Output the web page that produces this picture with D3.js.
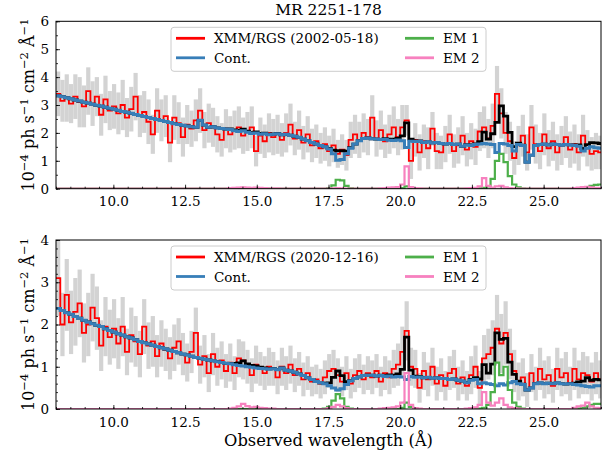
<!DOCTYPE html>
<html>
<head>
<meta charset="utf-8">
<script src="https://cdn.jsdelivr.net/npm/d3@7"></script>
<style>
  body { margin: 0; background: #fff; }
  text { font-family: 'DejaVu Serif', serif; fill: #000; }
</style>
</head>
<body>
<svg id="chart" width="611" height="456"></svg>
<script>
// wavelength grid of the RGS spectra (Å)
const binStart = 8.0
const binWidth = 0.15

const xMajor = [10, 12.5, 15, 17.5, 20, 22.5, 25]

// 2002-05-18 spectrum (1e-4 ph/s/cm2/Å)
const flux2002 = [
  3.4, 3.15, 3.25, 3.05, 3.3, 3.1, 2.95, 3.5, 3.05, 3.3,
  2.65, 3.2, 2.8, 2.95, 2.7, 3.0, 2.55, 2.85, 3.3, 2.6,
  2.75, 2.4, 1.95, 2.8, 2.45, 2.6, 1.65, 2.55, 2.35, 1.85,
  2.3, 2.15, 2.45, 2.8, 2.1, 2.35, 2.2, 1.95, 1.75, 2.15,
  1.95, 2.1, 2.2, 1.9, 2.05, 2.2, 1.35, 1.9, 1.7, 2.0,
  1.85, 1.95, 1.75, 2.0, 2.3, 1.8, 2.1, 1.65, 1.95, 1.55,
  1.7, 1.45, 1.6, 1.35, 1.55, 1.25, 1.4, 1.2, 1.75, 1.95,
  1.75, 2.0, 1.85, 2.55, 1.8, 2.1, 1.7, 1.95, 2.2, 1.85,
  2.2, 2.45, 1.0, 1.75, 1.3, 1.7, 1.45, 2.15, 1.35, 1.3,
  1.6, 1.95, 1.35, 1.55, 1.9, 1.4, 1.7, 1.5, 2.05, 2.2,
  1.8, 2.25, 3.4, 2.7, 2.0, 1.7, 1.1, 1.55, 1.9, 1.3,
  2.2, 1.6, 1.35, 1.95, 1.45, 1.7, 1.3, 1.55, 1.85, 1.4,
  1.6, 1.3, 1.9, 1.45, 1.25, 1.35, 1.3
]
const err2002 = [
  0.8, 0.75, 0.85, 0.7, 0.8, 0.9, 0.75, 0.85, 0.8, 0.7,
  0.75, 0.85, 0.7, 0.8, 0.75, 0.9, 0.7, 0.8, 0.85, 0.75,
  0.75, 0.8, 0.7, 0.8, 0.75, 0.75, 0.7, 0.8, 0.75, 0.7,
  0.7, 0.65, 0.75, 0.8, 0.65, 0.7, 0.7, 0.65, 0.6, 0.7,
  0.65, 0.7, 0.75, 0.65, 0.7, 0.75, 0.55, 0.65, 0.6, 0.7,
  0.65, 0.7, 0.6, 0.7, 0.75, 0.6, 0.7, 0.6, 0.65, 0.6,
  0.6, 0.55, 0.6, 0.55, 0.6, 0.5, 0.55, 0.55, 0.65, 0.7,
  0.65, 0.7, 0.65, 0.8, 0.65, 0.7, 0.6, 0.7, 0.75, 0.65,
  0.8, 0.55, 0.65, 0.6, 0.65, 0.6, 0.75, 0.6, 0.65, 0.6,
  0.65, 0.7, 0.6, 0.65, 0.7, 0.6, 0.65, 0.65, 0.7, 0.75,
  0.7, 0.8, 1.0, 0.9, 0.75, 0.7, 0.6, 0.7, 0.75, 0.65,
  0.8, 0.7, 0.65, 0.75, 0.65, 0.7, 0.65, 0.7, 0.75, 0.65,
  0.7, 0.65, 0.75, 0.65, 0.6, 0.65, 0.6
]
const cont2002 = [
  3.33, 3.3, 3.26, 3.22, 3.18, 3.14, 3.1, 3.07, 3.03, 2.99,
  2.96, 2.92, 2.88, 2.85, 2.81, 2.77, 2.74, 2.7, 2.66, 2.62,
  2.59, 2.55, 2.52, 2.48, 2.44, 2.41, 2.37, 2.33, 2.3, 2.27,
  2.25, 2.22, 2.2, 2.45, 2.28, 2.2, 2.22, 2.18, 2.16, 2.14,
  2.12, 2.08, 2.05, 2.08, 2.02, 1.98, 2.0, 1.95, 1.97, 1.93,
  1.95, 1.97, 1.93, 1.95, 1.92, 1.88, 1.84, 1.78, 1.72, 1.66,
  1.6, 1.55, 1.5, 1.42, 1.25, 1.02, 1.05, 1.25, 1.45, 1.6,
  1.72, 1.8, 1.82, 1.79, 1.78, 1.76, 1.77, 1.74, 1.73, 1.75,
  1.72, 1.48, 1.7, 1.69, 1.7, 1.66, 1.68, 1.64, 1.66, 1.62,
  1.6, 1.62, 1.58, 1.6, 1.52, 1.57, 1.55, 1.58, 1.6, 1.62,
  1.6, 1.58, 1.3, 1.62, 1.6, 1.55, 1.35, 1.58, 1.55, 0.95,
  1.2, 1.55, 1.58, 1.6, 1.57, 1.6, 1.58, 1.56, 1.58, 1.57,
  1.55, 1.52, 1.35, 1.45, 1.5, 1.47, 1.45
]
const em1_2002 = [
  0, 0, 0, 0, 0, 0, 0, 0, 0, 0,
  0, 0, 0, 0, 0, 0, 0, 0, 0, 0,
  0, 0, 0, 0, 0, 0, 0, 0, 0, 0,
  0, 0, 0, 0, 0, 0, 0, 0, 0, 0,
  0, 0, 0, 0, 0, 0, 0, 0, 0, 0,
  0, 0, 0, 0, 0, 0, 0, 0, 0, 0,
  0, 0, 0, 0.02, 0.12, 0.32, 0.3, 0.1, 0.02, 0,
  0, 0, 0, 0, 0, 0, 0, 0, 0, 0,
  0.02, 0.08, 0.02, 0, 0, 0, 0, 0, 0, 0,
  0, 0, 0, 0, 0, 0, 0, 0, 0.01, 0.03,
  0.08, 0.35, 1.0, 1.25, 0.95, 0.45, 0.15, 0.05, 0.01, 0,
  0, 0, 0, 0, 0, 0, 0, 0, 0, 0,
  0, 0.01, 0.03, 0.06, 0.1, 0.14, 0.15
]
const em2_2002 = [
  0, 0, 0, 0, 0, 0, 0, 0, 0, 0,
  0, 0, 0, 0, 0, 0, 0, 0, 0, 0,
  0, 0, 0, 0, 0, 0, 0, 0, 0, 0,
  0, 0, 0, 0, 0, 0, 0, 0, 0, 0,
  0.02, 0.03, 0.04, 0.05, 0.04, 0.03, 0.04, 0.03, 0.02, 0.01,
  0.01, 0.01, 0, 0, 0, 0, 0, 0, 0, 0,
  0, 0, 0, 0, 0.01, 0.02, 0.01, 0, 0, 0,
  0, 0, 0, 0, 0, 0.01, 0.02, 0.04, 0.05, 0.06,
  0.15, 0.8, 0.06, 0.02, 0.01, 0, 0, 0, 0, 0,
  0, 0, 0, 0, 0, 0.01, 0.02, 0.03, 0.08, 0.38,
  0.1, 0.04, 0.08, 0.1, 0.05, 0.02, 0.01, 0, 0, 0,
  0, 0, 0, 0, 0, 0, 0, 0, 0, 0,
  0.02, 0.04, 0.06, 0.07, 0.05, 0.03, 0.02
]

// 2020-12-16 spectrum
const flux2020 = [
  3.1, 2.0, 2.7, 2.05, 2.3, 2.5, 1.8, 2.0, 2.4, 2.15,
  1.5, 1.95, 1.7, 1.9, 1.55, 1.95, 1.35, 1.75, 1.6, 1.3,
  1.95, 1.5, 1.6, 1.25, 1.55, 1.4, 1.2, 1.45, 1.6, 1.3,
  1.1, 1.35, 1.8, 1.05, 1.25, 0.85, 1.3, 1.0, 1.15, 0.9,
  1.1, 0.85, 1.2, 1.15, 1.0, 0.8, 1.05, 0.95, 0.85, 1.0,
  0.95, 0.75, 1.0, 0.85, 1.05, 0.8, 0.95, 0.7, 0.85, 0.65,
  0.7, 0.6, 0.75, 0.9, 0.95, 0.8, 0.65, 0.85, 0.6, 0.8,
  0.9, 0.7, 0.85, 0.75, 0.9, 0.65, 0.85, 0.75, 0.95, 1.05,
  1.35, 1.85, 1.0, 0.95, 0.5, 0.9, 0.7, 1.0, 0.6, 0.8,
  0.55, 0.85, 0.95, 0.6, 0.75, 0.55, 0.8, 1.0, 0.5, 1.2,
  1.3, 1.45, 1.9, 1.55, 1.8, 1.3, 0.9, 0.65, 0.75, 0.45,
  0.85, 0.6, 0.95, 0.7, 0.8, 0.55, 0.95, 0.75, 0.85, 0.6,
  0.95, 0.7, 0.85, 0.8, 0.65, 0.85, 0.7
]
const err2020 = [
  0.9, 0.75, 0.85, 0.75, 0.8, 0.8, 0.7, 0.75, 0.8, 0.75,
  0.6, 0.7, 0.65, 0.7, 0.6, 0.7, 0.55, 0.65, 0.6, 0.55,
  0.65, 0.55, 0.6, 0.5, 0.55, 0.5, 0.5, 0.55, 0.55, 0.5,
  0.45, 0.5, 0.6, 0.45, 0.5, 0.45, 0.5, 0.45, 0.45, 0.4,
  0.45, 0.4, 0.45, 0.45, 0.4, 0.4, 0.45, 0.4, 0.4, 0.45,
  0.4, 0.4, 0.45, 0.4, 0.45, 0.4, 0.4, 0.4, 0.4, 0.35,
  0.35, 0.35, 0.4, 0.4, 0.45, 0.4, 0.35, 0.4, 0.35, 0.4,
  0.4, 0.35, 0.4, 0.4, 0.4, 0.35, 0.4, 0.4, 0.45, 0.5,
  0.6, 0.7, 0.45, 0.45, 0.35, 0.45, 0.4, 0.45, 0.4, 0.4,
  0.35, 0.4, 0.45, 0.4, 0.4, 0.35, 0.45, 0.5, 0.4, 0.55,
  0.6, 0.65, 0.8, 0.7, 0.75, 0.6, 0.5, 0.45, 0.45, 0.4,
  0.45, 0.4, 0.5, 0.45, 0.45, 0.4, 0.5, 0.45, 0.5, 0.4,
  0.5, 0.45, 0.5, 0.45, 0.45, 0.5, 0.45
]
const cont2020 = [
  2.38, 2.33, 2.28, 2.24, 2.19, 2.15, 2.1, 2.06, 2.02, 1.98,
  1.95, 1.9, 1.86, 1.82, 1.78, 1.75, 1.71, 1.68, 1.64, 1.6,
  1.57, 1.54, 1.51, 1.48, 1.45, 1.42, 1.39, 1.36, 1.33, 1.3,
  1.28, 1.25, 1.22, 1.2, 1.18, 1.16, 1.14, 1.12, 1.1, 1.08,
  1.07, 1.05, 1.03, 1.02, 1.0, 0.99, 0.97, 0.96, 0.95, 0.94,
  0.95, 0.93, 0.97, 0.92, 0.9, 0.87, 0.83, 0.79, 0.74, 0.7,
  0.65, 0.62, 0.6, 0.55, 0.5, 0.45, 0.48, 0.58, 0.66, 0.72,
  0.76, 0.79, 0.8, 0.8, 0.78, 0.79, 0.77, 0.78, 0.76, 0.77,
  0.76, 0.7, 0.77, 0.75, 0.76, 0.74, 0.75, 0.73, 0.74, 0.72,
  0.72, 0.7, 0.71, 0.68, 0.66, 0.62, 0.68, 0.7, 0.6, 0.62,
  0.6, 0.58, 0.55, 0.6, 0.57, 0.62, 0.65, 0.6, 0.58, 0.45,
  0.5, 0.6, 0.62, 0.6, 0.61, 0.6, 0.62, 0.6, 0.59, 0.6,
  0.58, 0.57, 0.55, 0.53, 0.52, 0.55, 0.55
]
const em1_2020 = [
  0, 0, 0, 0, 0, 0, 0, 0, 0, 0,
  0, 0, 0, 0, 0, 0, 0, 0, 0, 0,
  0, 0, 0, 0, 0, 0, 0, 0, 0, 0,
  0, 0, 0, 0, 0, 0, 0, 0, 0, 0,
  0, 0, 0, 0, 0, 0, 0, 0, 0, 0,
  0, 0, 0, 0, 0, 0, 0, 0, 0, 0,
  0, 0, 0.01, 0.05, 0.2, 0.35, 0.25, 0.05, 0.01, 0,
  0, 0, 0, 0, 0, 0, 0, 0, 0, 0,
  0.03, 0.15, 0.05, 0.01, 0, 0, 0, 0, 0, 0,
  0, 0, 0, 0, 0, 0, 0, 0, 0.01, 0.03,
  0.1, 0.4, 1.1, 0.8, 1.0, 0.45, 0.15, 0.05, 0.01, 0,
  0, 0, 0, 0, 0, 0, 0, 0, 0, 0,
  0, 0.01, 0.03, 0.06, 0.1, 0.12, 0.12
]
const em2_2020 = [
  0, 0, 0, 0, 0, 0, 0, 0, 0, 0,
  0, 0, 0, 0, 0, 0, 0, 0, 0, 0,
  0, 0, 0, 0, 0, 0, 0, 0, 0, 0,
  0, 0, 0, 0, 0, 0, 0, 0, 0, 0,
  0.01, 0.03, 0.06, 0.12, 0.07, 0.04, 0.05, 0.03, 0.02, 0.01,
  0.01, 0, 0, 0, 0, 0, 0, 0, 0, 0,
  0, 0, 0, 0.02, 0.05, 0.1, 0.06, 0.02, 0, 0,
  0, 0, 0, 0, 0, 0.01, 0.02, 0.03, 0.04, 0.06,
  0.15, 0.85, 0.1, 0.02, 0.01, 0, 0, 0, 0, 0,
  0, 0, 0, 0, 0, 0.01, 0.02, 0.04, 0.1, 0.4,
  0.15, 0.08, 0.15, 0.25, 0.1, 0.04, 0.02, 0.01, 0, 0,
  0, 0, 0, 0, 0, 0, 0, 0, 0, 0,
  0.03, 0.06, 0.08, 0.15, 0.06, 0.03, 0.02
]

const colors = { data: '#ff0000', cont: '#377eb8', total: '#000000', em1: '#4daf4a', em2: '#f781bf', err: '#d3d3d3' }

const panels = [
  { id: 'p1', label: 'XMM/RGS (2002-05-18)', flux: flux2002, err: err2002, cont: cont2002, em1: em1_2002, em2: em2_2002, yMax: 6, yMinor: 0.5, top: 21.3, bottom: 188.7 },
  { id: 'p2', label: 'XMM/RGS (2020-12-16)', flux: flux2020, err: err2020, cont: cont2020, em1: em1_2020, em2: em2_2020, yMax: 4, yMinor: 0.2, top: 240, bottom: 409 }
]

const svg = d3.select('#chart')
const left = 56
const right = 601
const x = d3.scaleLinear().domain([8, 27]).range([left, right])

function drawPanel(cfg) {
  const y = d3.scaleLinear().domain([0, cfg.yMax]).range([cfg.bottom, cfg.top])
  const g = svg.append('g')

  g.append('clipPath').attr('id', 'clip-' + cfg.id)
    .append('rect')
    .attr('x', left).attr('y', cfg.top)
    .attr('width', right - left).attr('height', cfg.bottom - cfg.top)

  const plot = g.append('g').attr('clip-path', `url(#clip-${cfg.id})`)

  // error bars
  plot.append('g').selectAll('rect').data(cfg.flux).join('rect')
    .attr('x', (d, i) => x(binStart + (i + 0.5) * binWidth) - 2.1)
    .attr('width', 4.2)
    .attr('y', (d, i) => y(d + cfg.err[i]))
    .attr('height', (d, i) => y(d - cfg.err[i]) - y(d + cfg.err[i]))
    .attr('fill', colors.err)

  const step = vals => {
    const pts = vals.map((v, i) => [binStart + i * binWidth, v])
    pts.push([binStart + vals.length * binWidth, vals[vals.length - 1]])
    return d3.line().x(d => x(d[0])).y(d => y(d[1])).curve(d3.curveStepAfter)(pts)
  }

  const total = cfg.cont.map((c, i) => c + cfg.em1[i] + cfg.em2[i])

  const series = [
    { vals: cfg.flux, color: colors.data, w: 1.8 },
    { vals: total, color: colors.total, w: 2.8 },
    { vals: cfg.cont, color: colors.cont, w: 3 },
    { vals: cfg.em1, color: colors.em1, w: 2.2 },
    { vals: cfg.em2, color: colors.em2, w: 2.2 }
  ]
  plot.selectAll('path.s').data(series).join('path')
    .classed('s', true)
    .attr('d', d => step(d.vals))
    .attr('fill', 'none')
    .attr('stroke', d => d.color)
    .attr('stroke-width', d => d.w)
    .attr('stroke-linejoin', 'miter')

  // axes
  const xAx = g.append('g').attr('transform', `translate(0,${cfg.bottom})`)
  xAx.call(d3.axisBottom(x).tickValues(xMajor).tickFormat(d3.format('.1f')).tickSize(-4).tickPadding(8))
  const xMin = g.append('g').attr('transform', `translate(0,${cfg.bottom})`)
  xMin.call(d3.axisBottom(x).tickValues(d3.range(8, 27.01, 0.5)).tickFormat('').tickSize(-2))

  const yAx = g.append('g').attr('transform', `translate(${left},0)`)
  yAx.call(d3.axisLeft(y).tickValues(d3.range(0, cfg.yMax + 0.01, 1)).tickFormat(d3.format('d')).tickSize(-4).tickPadding(7))
  const yMin = g.append('g').attr('transform', `translate(${left},0)`)
  yMin.call(d3.axisLeft(y).tickValues(d3.range(0, cfg.yMax + 0.01, cfg.yMinor)).tickFormat('').tickSize(-2))

  g.selectAll('.domain').remove()
  g.selectAll('.tick line').attr('stroke', '#000').attr('stroke-width', 0.8)
  g.selectAll('.tick text').attr('font-family', 'DejaVu Serif').attr('font-size', 13.5).attr('fill', '#000')

  g.append('rect')
    .attr('x', left).attr('y', cfg.top)
    .attr('width', right - left).attr('height', cfg.bottom - cfg.top)
    .attr('fill', 'none').attr('stroke', '#000').attr('stroke-width', 1)

  // y label
  const yl = g.append('text')
    .attr('transform', `translate(34,${(cfg.top + cfg.bottom) / 2}) rotate(-90)`)
    .attr('text-anchor', 'middle')
    .attr('font-size', 16)
  const parts = [['10', false], ['−4', true], [' ph s', false], ['−1', true], [' cm', false], ['−2', true], [' Å', false], ['−1', true]]
  let up = false
  parts.forEach(([t, sup]) => {
    const ts = yl.append('tspan').text(t)
    if (sup && !up) { ts.attr('dy', -6.5).attr('font-size', 11.5); up = true }
    else if (sup) { ts.attr('font-size', 11.5) }
    else if (up) { ts.attr('dy', 6.5); up = false }
  })

  // legend
  const lg = g.append('g').attr('transform', `translate(171,${cfg.top + 6})`)
  lg.append('rect')
    .attr('width', 315).attr('height', 44).attr('rx', 3)
    .attr('fill', '#fff').attr('fill-opacity', 0.85)
    .attr('stroke', '#cccccc').attr('stroke-width', 1)
  const items = [
    { name: cfg.label, color: colors.data, tx: 5, ty: 11 },
    { name: 'Cont.', color: colors.cont, tx: 5, ty: 30.5 },
    { name: 'EM 1', color: colors.em1, tx: 234, ty: 11 },
    { name: 'EM 2', color: colors.em2, tx: 234, ty: 30.5 }
  ]
  const it = lg.selectAll('g.item').data(items).join('g')
    .classed('item', true)
    .attr('transform', d => `translate(${d.tx},${d.ty})`)
  it.append('line').attr('x1', 0).attr('x2', 29)
    .attr('stroke', d => d.color).attr('stroke-width', 2.8)
  it.append('text').attr('x', 38).attr('dy', 5)
    .attr('font-size', 13.5)
    .text(d => d.name)
}

panels.forEach(drawPanel)

svg.append('text')
  .attr('x', (left + right) / 2).attr('y', 15)
  .attr('text-anchor', 'middle').attr('font-size', 15.5)
  .text('MR 2251-178')

svg.append('text')
  .attr('x', (left + right) / 2).attr('y', 446)
  .attr('text-anchor', 'middle').attr('font-size', 16.3)
  .text('Observed wavelength (Å)')
</script>
</body>
</html>
